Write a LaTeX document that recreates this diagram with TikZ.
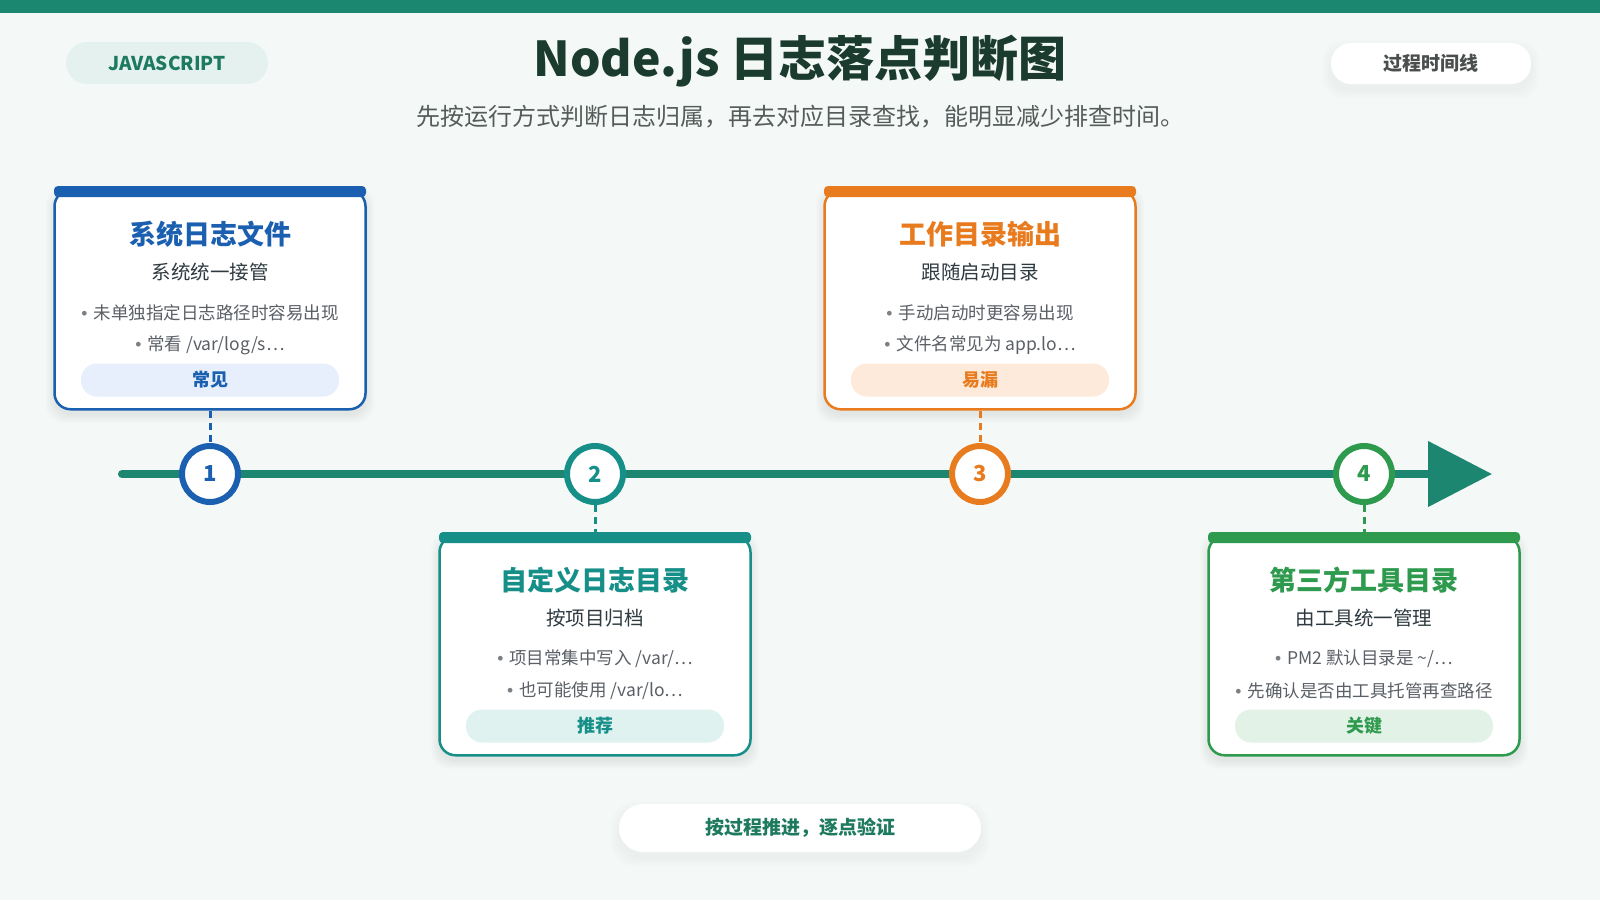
\documentclass[tikz,border=0pt]{standalone}
\usepackage{fontspec}
\setmainfont{Noto Sans CJK SC}
\newfontfamily\bulfont{Liberation Sans}
\usetikzlibrary{arrows.meta}
\definecolor{bg}{HTML}{F4F8F7}
\definecolor{topbar}{HTML}{1B8770}
\definecolor{titlec}{HTML}{1A3B2E}
\definecolor{subc}{HTML}{565C5B}
\definecolor{jsfill}{HTML}{E4F1EE}
\definecolor{jstext}{HTML}{1E7A5E}
\definecolor{tline}{HTML}{1D8670}
\definecolor{col1}{HTML}{1B5FB0}
\definecolor{tag1}{HTML}{E6EFFB}
\definecolor{col2}{HTML}{168F88}
\definecolor{tag2}{HTML}{DFF2EF}
\definecolor{col3}{HTML}{E87B1E}
\definecolor{tag3}{HTML}{FDEADB}
\definecolor{col4}{HTML}{2E9A4E}
\definecolor{tag4}{HTML}{E3F2E6}
\definecolor{darktext}{HTML}{2E3A40}
\definecolor{bullettext}{HTML}{5A6066}
\definecolor{pilltext}{HTML}{4A4F4E}
\newcommand\fsz[1]{\fontsize{#1}{#1}\selectfont}
\newcommand\bul{{\bulfont\color{bullettext!80}•}\hspace{6pt}}
\tikzset{
 cardbox/.style={rectangle, rounded corners=16pt, fill=white, line width=2.5pt, minimum width=311pt, minimum height=219pt, anchor=north},
 cardtitle/.style={font=\fsz{27}\bfseries},
 cardsub/.style={font=\fsz{19.5}, text=darktext},
 cardbullet/.style={font=\fsz{17.5}, text=bullettext},
 tagpill/.style={rectangle, rounded corners=16pt, minimum width=258pt, minimum height=33pt, font=\fsz{18}\bfseries, inner sep=0pt},
 stepcircle/.style={circle, fill=white, line width=6pt, minimum size=56pt, inner sep=0pt, font=\fsz{22}\bfseries},
 linkline/.style={line width=3pt, dash pattern=on 7pt off 5pt},
 whitepill/.style={rectangle, fill=white, inner sep=0pt},
 shadowlayer/.style={fill=black, opacity=0.009},
 lightshadow/.style={fill=black, opacity=0.005},
}
% soft shadow: x1 y1 x2 y2 radius style
\newcommand\shadowrect[6]{%
 \foreach \i in {1,2,...,9}{%
  \fill[#6, rounded corners=#5pt] (#1-\i,#2-\i+6) rectangle (#3+\i,#4+\i+6);
 }%
}
\newcommand\tlcard[8]{%
 \shadowrect{#2-155.5}{#3}{#2+155.5}{#3+219}{18}{shadowlayer}
 \node[cardbox, draw=col#1] (c#1) at (#2,#3) {};
 \fill[col#1, rounded corners=4pt] (#2-156,#3-3) rectangle (#2+156,#3+8);
 \node[cardtitle, text=col#1] (t#1) at (#2,#3+45) {#4};
 \node[cardsub] (s#1) at (#2,#3+83) {#5};
 \node[cardbullet] (a#1) at (#2,#3+124) {\bul #6};
 \node[cardbullet] (b#1) at (#2,#3+156) {\bul #7};
 \node[tagpill, fill=tag#1, text=col#1] (g#1) at (#2,#3+191) {#8};
}
\begin{document}
\begin{tikzpicture}[x=1pt,y=-1pt]
\useasboundingbox (0,0) rectangle (1600,900);
\fill[bg] (0,0) rectangle (1600,900);
\fill[topbar] (0,0) rectangle (1600,13);
% header
\node[rectangle, rounded corners=21pt, fill=jsfill, minimum width=202pt, minimum height=42pt, inner sep=0pt, text=jstext, font=\fsz{19}\bfseries] (js) at (167,63) {JAVASCRIPT};
\node[text=titlec, font=\fsz{48}\bfseries] (title) at (800,61) {Node.js 日志落点判断图};
\node[text=subc, font=\fsz{24}] (subtitle) at (800,117) {先按运行方式判断日志归属，再去对应目录查找，能明显减少排查时间。};
\shadowrect{1331}{43}{1531}{84}{20}{lightshadow}
\node[whitepill, rounded corners=20pt, minimum width=200pt, minimum height=41pt, text=pilltext, font=\fsz{19}\bfseries] (kind) at (1431,63.5) {过程时间线};
% timeline
\coordinate (ls) at (122,474);
\coordinate (le) at (1492,474);
\draw[tline, line width=8pt, line cap=round, -{Triangle[length=64pt,width=64pt]}] (ls) -- (le);
% cards
\tlcard{1}{210}{189}{系统日志文件}{系统统一接管}{未单独指定日志路径时容易出现}{常看 /var/log/s…}{常见}
\tlcard{2}{595}{535}{自定义日志目录}{按项目归档}{项目常集中写入 /var/…}{也可能使用 /var/lo…}{推荐}
\tlcard{3}{980}{189}{工作目录输出}{跟随启动目录}{手动启动时更容易出现}{文件名常见为 app.lo…}{易漏}
\tlcard{4}{1364}{535}{第三方工具目录}{由工具统一管理}{PM2 默认目录是 \textasciitilde/…}{先确认是否由工具托管再查路径}{关键}
% step circles
\node[stepcircle, draw=col1, text=col1] (n1) at (210,474) {1};
\node[stepcircle, draw=col2, text=col2] (n2) at (595,474) {2};
\node[stepcircle, draw=col3, text=col3] (n3) at (980,474) {3};
\node[stepcircle, draw=col4, text=col4] (n4) at (1364,474) {4};
% connectors
\draw[linkline, col1] (c1.south) -- (n1.north);
\draw[linkline, col2] (n2.south) -- (c2.north);
\draw[linkline, col3] (c3.south) -- (n3.north);
\draw[linkline, col4] (n4.south) -- (c4.north);
% footer
\shadowrect{619}{804}{981}{852}{24}{lightshadow}
\node[whitepill, rounded corners=24pt, minimum width=362pt, minimum height=48pt, text=jstext, font=\fsz{19}\bfseries] (foot) at (800,828) {按过程推进，逐点验证};
\end{tikzpicture}
\end{document}
